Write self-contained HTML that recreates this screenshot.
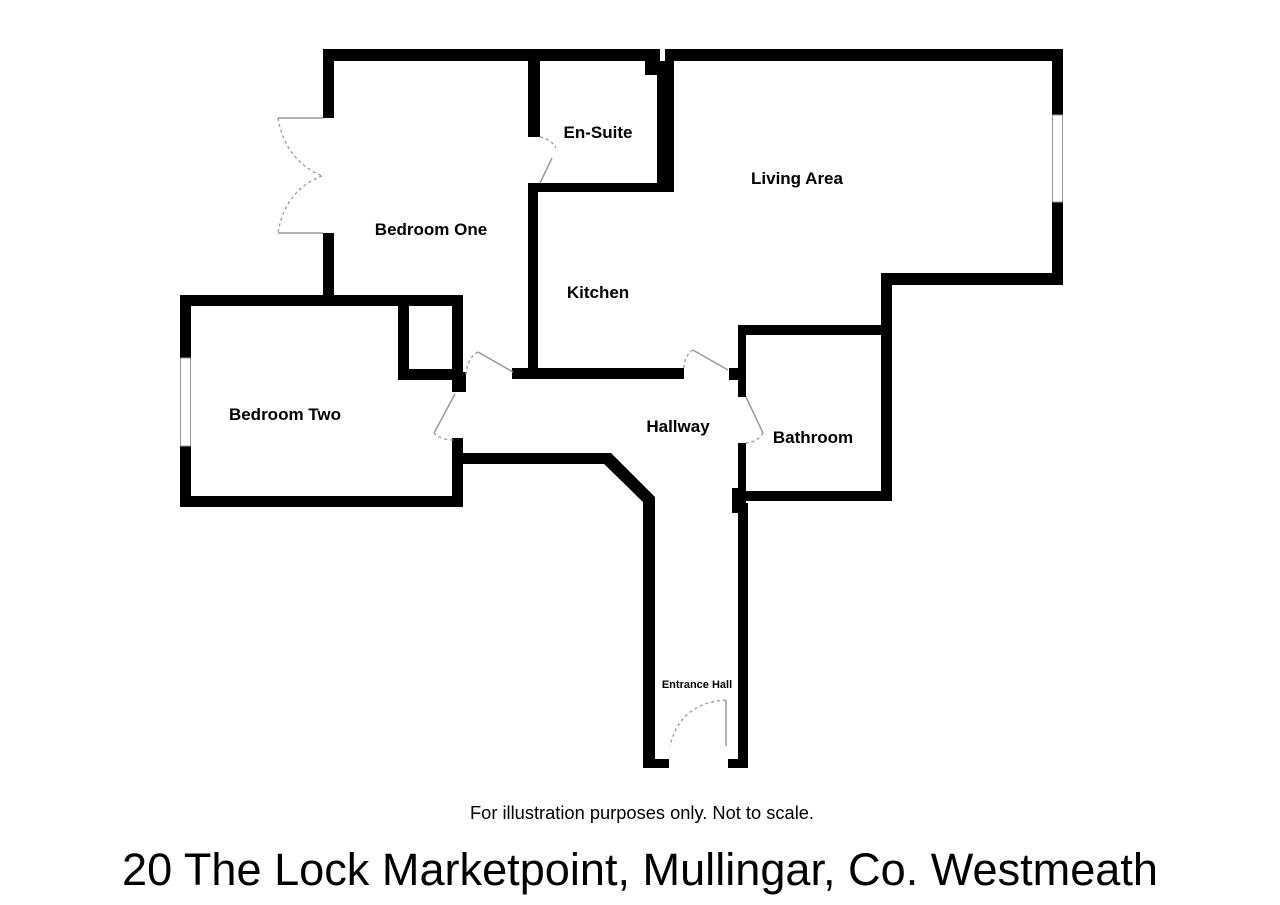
<!DOCTYPE html>
<html><head><meta charset="utf-8"><style>
html,body{margin:0;padding:0;background:#fff;}
svg{display:block;}
text{font-family:"Liberation Sans",Arial,sans-serif;}
</style></head><body>
<svg width="1280" height="905" viewBox="0 0 1280 905" xmlns="http://www.w3.org/2000/svg">
<rect width="1280" height="905" fill="#fff"/>
<g fill="#000">
<rect x="323" y="49" width="337" height="12"/>
<rect x="665" y="49" width="398" height="12"/>
<rect x="645" y="61" width="15" height="14"/>
<rect x="657" y="61" width="17" height="129"/>
<rect x="1052" y="49" width="11" height="66"/>
<rect x="1052" y="202" width="11" height="83"/>
<rect x="881" y="273" width="182" height="12"/>
<rect x="881" y="273" width="11" height="60"/>
<rect x="323" y="49" width="11" height="69"/>
<rect x="323" y="233" width="11" height="64"/>
<rect x="528" y="61" width="12" height="76"/>
<rect x="528" y="183" width="10" height="195"/>
<rect x="528" y="183" width="146" height="9"/>
<rect x="512" y="368" width="172" height="11"/>
<rect x="180" y="295" width="283" height="11"/>
<rect x="180" y="295" width="11" height="63"/>
<rect x="180" y="446" width="11" height="61"/>
<rect x="180" y="496" width="283" height="11"/>
<rect x="452" y="295" width="11" height="97"/>
<rect x="452" y="372" width="14" height="20"/>
<rect x="452" y="438" width="11" height="69"/>
<rect x="398" y="306" width="11" height="74"/>
<rect x="398" y="369" width="65" height="11"/>
<rect x="452" y="453" width="155" height="11"/>
<polygon points="603,453 611,453 655,497 655,505 643,505 643,502 601,461"/>
<rect x="643" y="497" width="12" height="271"/>
<rect x="643" y="759" width="26" height="9"/>
<rect x="738" y="325" width="154" height="10"/>
<rect x="881" y="325" width="11" height="176"/>
<rect x="738" y="491" width="154" height="10"/>
<rect x="738" y="325" width="8" height="72"/>
<rect x="729" y="368" width="17" height="12"/>
<rect x="738" y="443" width="8" height="58"/>
<rect x="732" y="488" width="14" height="25"/>
<rect x="738" y="503" width="10" height="265"/>
<rect x="728" y="759" width="20" height="9"/>
</g>
<g stroke="#999" stroke-width="1" fill="#fff">
<rect x="1052.5" y="115" width="10" height="87"/>
<rect x="180.5" y="358" width="10" height="88"/>
</g>
<g fill="none" stroke="#999" stroke-width="1.5">
<line x1="278" y1="118" x2="323" y2="118"/>
<line x1="278" y1="233" x2="323" y2="233"/>
<line x1="540" y1="183" x2="552" y2="158"/>
<line x1="513" y1="372" x2="478" y2="352"/>
<line x1="455" y1="394" x2="434" y2="433"/>
<line x1="728" y1="370" x2="693" y2="350"/>
<line x1="746" y1="397" x2="763" y2="433"/>
<line x1="726" y1="700" x2="726" y2="746"/>
</g>
<g fill="none" stroke="#999" stroke-width="1.3" stroke-dasharray="3,3">
<path d="M278 118 Q285 160 322 176"/>
<path d="M322 176 Q285 190 278 233"/>
<path d="M540 137 Q552 140 556 148"/>
<path d="M478 352 Q467 358 466 375"/>
<path d="M434 433 Q440 440 455 440"/>
<path d="M693 350 Q684 356 684 368"/>
<path d="M763 433 Q758 442 746 443"/>
<path d="M726 700 Q680 703 670 746"/>
</g>
<g font-weight="bold" font-size="17" text-anchor="middle" fill="#000">
<text x="431" y="235">Bedroom One</text>
<text x="598" y="138">En-Suite</text>
<text x="797" y="184">Living Area</text>
<text x="598" y="298">Kitchen</text>
<text x="285" y="420">Bedroom Two</text>
<text x="678" y="432">Hallway</text>
<text x="813" y="443">Bathroom</text>
<text x="697" y="688" font-size="11">Entrance Hall</text>
</g>
<text x="470" y="819" font-size="18" textLength="344" lengthAdjust="spacingAndGlyphs">For illustration purposes only. Not to scale.</text>
<text x="122" y="885" font-size="45" textLength="1036" lengthAdjust="spacingAndGlyphs">20 The Lock Marketpoint, Mullingar, Co. Westmeath</text>
</svg>
</body></html>
